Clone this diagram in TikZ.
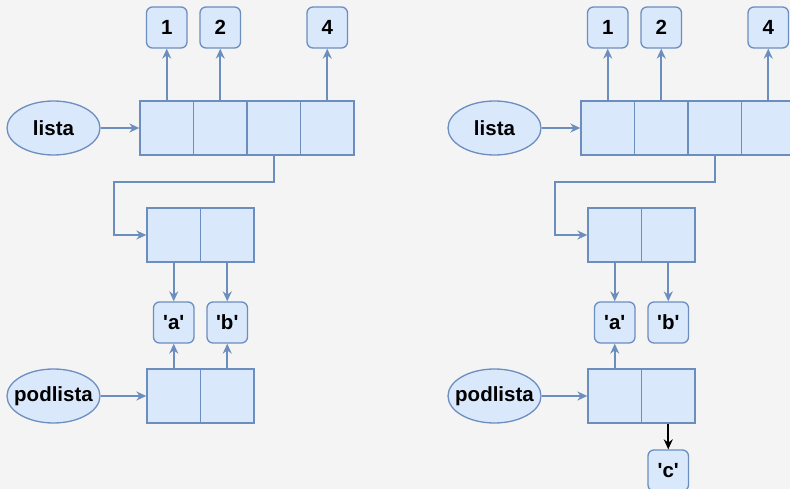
\documentclass[tikz,border=0pt]{standalone}
\usepackage{fontspec}
\setmainfont{Liberation Sans}
\usetikzlibrary{shapes, positioning, arrows.meta, calc}

\definecolor{cellfill}{HTML}{DAE8FC}
\definecolor{celldraw}{HTML}{6C8EBF}
\definecolor{paper}{HTML}{F4F4F4}

\newcommand{\chr}[1]{\textquotesingle#1\textquotesingle}

\tikzset{
  cell/.style={rectangle, draw=celldraw, fill=cellfill, line width=1.3pt,
    minimum width=53.5pt, minimum height=54pt, inner sep=0pt},
  val/.style={rectangle, rounded corners=6pt, draw=celldraw, fill=cellfill, line width=1.3pt,
    minimum width=40.5pt, minimum height=41pt, inner sep=0pt,
    font=\fontsize{20.5}{24}\selectfont\bfseries},
  var/.style={ellipse, draw=celldraw, fill=cellfill, line width=1.3pt,
    minimum width=93pt, minimum height=54pt, inner xsep=-8pt, inner ysep=0pt,
    font=\fontsize{20.5}{24}\selectfont\bfseries},
  link/.style={draw=celldraw, line width=1.6pt, -{Stealth[length=10pt,width=9pt]}},
}

\begin{document}
\begin{tikzpicture}[x=1pt, y=-1pt]
        \useasboundingbox (0,0) rectangle (790,489);
        \clip (0,0) rectangle (790,489);
        \fill[paper] (0,0) rectangle (790,489);

        % Shift of the second picture
        \def\dx{441}

        % ---------- before ----------
        \node[var] (lista) at (53.5,128) {lista};
        \node[cell] (la1) at (166.75,128) {};
        \node[cell] (la2) at (220.25,128) {};
        \node[cell] (la3) at (273.75,128) {};
        \node[cell] (la4) at (327.25,128) {};

        \node[val] (l1) at (166.75,27.5) {1};
        \node[val] (l2) at (220.25,27.5) {2};
        \node[val] (l4) at (327.25,27.5) {4};

        \node[cell] (ls1) at (173.75,235) {};
        \node[cell] (ls2) at (227.25,235) {};

        \node[val] (la) at (173.75,322.5) {\chr{a}};
        \node[val] (lb) at (227.25,322.5) {\chr{b}};

        \node[var] (podlista) at (53.5,396) {podlista};
        \node[cell] (lp1) at (173.75,396) {};
        \node[cell] (lp2) at (227.25,396) {};

        \coordinate (lbend) at (114,182);

        \draw[link] (lista) -- (la1);
        \draw[link] (la1.north) -- (l1);
        \draw[link] (la2.north) -- (l2);
        \draw[link] (la4.north) -- (l4);
        \draw[link] (la3.south) |- (lbend) |- (ls1.west);
        \draw[link] (ls1.south) -- (la);
        \draw[link] (ls2.south) -- (lb);
        \draw[link] (podlista) -- (lp1);
        \draw[link] (lp1.north) -- (la);
        \draw[link] (lp2.north) -- (lb);

        % ---------- after ----------
        \node[var] (rlista) at (53.5+\dx,128) {lista};
        \node[cell] (ra1) at (166.75+\dx,128) {};
        \node[cell] (ra2) at (220.25+\dx,128) {};
        \node[cell] (ra3) at (273.75+\dx,128) {};
        \node[cell] (ra4) at (327.25+\dx,128) {};

        \node[val] (r1) at (166.75+\dx,27.5) {1};
        \node[val] (r2) at (220.25+\dx,27.5) {2};
        \node[val] (r4) at (327.25+\dx,27.5) {4};

        \node[cell] (rs1) at (173.75+\dx,235) {};
        \node[cell] (rs2) at (227.25+\dx,235) {};

        \node[val] (ra) at (173.75+\dx,322.5) {\chr{a}};
        \node[val] (rb) at (227.25+\dx,322.5) {\chr{b}};

        \node[var] (rpodlista) at (53.5+\dx,396) {podlista};
        \node[cell] (rp1) at (173.75+\dx,396) {};
        \node[cell] (rp2) at (227.25+\dx,396) {};

        \node[val] (rc) at (227.25+\dx,470.5) {\chr{c}};

        \coordinate (rbend) at (114+\dx,182);

        \draw[link] (rlista) -- (ra1);
        \draw[link] (ra1.north) -- (r1);
        \draw[link] (ra2.north) -- (r2);
        \draw[link] (ra4.north) -- (r4);
        \draw[link] (ra3.south) |- (rbend) |- (rs1.west);
        \draw[link] (rs1.south) -- (ra);
        \draw[link] (rs2.south) -- (rb);
        \draw[link] (rpodlista) -- (rp1);
        \draw[link] (rp1.north) -- (ra);
        \draw[link, draw=black] (rp2.south) -- (rc); % new element
\end{tikzpicture}
\end{document}
